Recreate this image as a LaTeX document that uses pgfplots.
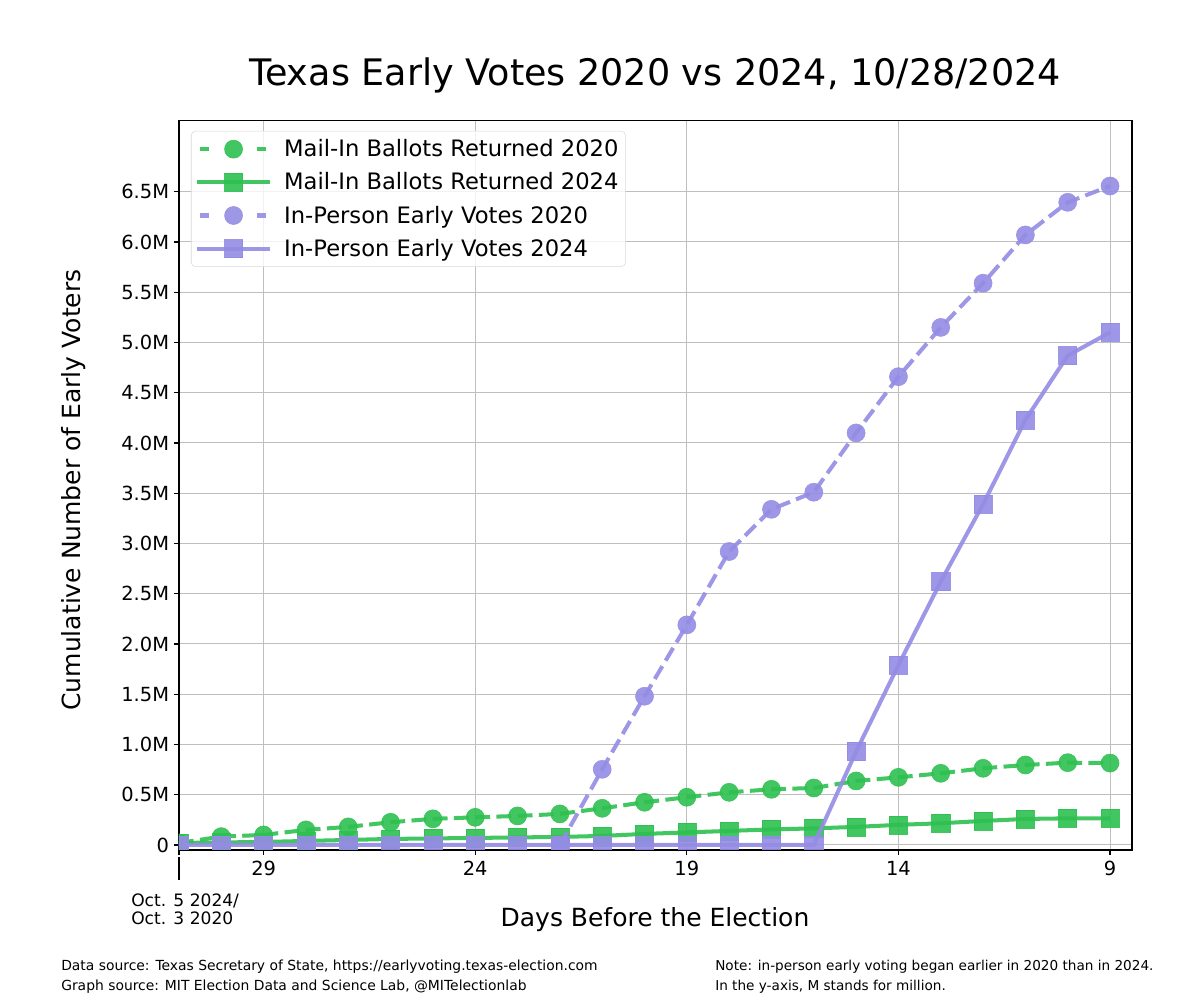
\documentclass[border=0pt]{standalone}
\usepackage{fontspec}
\setmainfont{DejaVu Sans}
\usepackage{pgfplots}
\pgfplotsset{compat=1.18}
\usetikzlibrary{calc}
\definecolor{mgreen}{RGB}{46,192,80}
\definecolor{mpurple}{RGB}{148,140,228}
\pgfplotsset{dashleg/.style={legend image code/.code={\draw[##1, dash pattern=on 6pt off 35pt on 6pt off 20pt, mark repeat=2, mark phase=2] plot coordinates {(2pt,0pt) (26pt,0pt) (50pt,0pt)};}}}
\pgfplotstableread{
day m20 m24 p24
31 0.02 0.02 0
30 0.083 0.025 0
29 0.10 0.03 0
28 0.15 0.04 0
27 0.18 0.05 0
26 0.226 0.06 0
25 0.26 0.065 0
24 0.275 0.07 0
23 0.289 0.075 0
22 0.309 0.08 0
21 0.365 0.09 0
20 0.425 0.11 0
19 0.475 0.125 0
18 0.524 0.14 0
17 0.554 0.155 0
16 0.567 0.165 0
15 0.637 0.18 0.93
14 0.673 0.20 1.79
13 0.713 0.216 2.62
12 0.763 0.239 3.39
11 0.796 0.259 4.23
10 0.819 0.265 4.87
9 0.815 0.265 5.10
}\maintab
\pgfplotstableread{
day p20
22 0
21 0.753
20 1.48
19 2.19
18 2.92
17 3.34
16 3.51
15 4.10
14 4.66
13 5.15
12 5.59
11 6.07
10 6.395
9 6.557
}\ipt
\begin{document}
\begin{tikzpicture}
\begin{axis}[
  scale only axis, width=686.2pt, height=525.1pt,
  x dir=reverse, xmin=8.48, xmax=31, ymin=-0.05, ymax=7.207,
  xtick={31,29,24,19,14,9}, xticklabels={\raisebox{3pt}[16.5pt][0pt]{\rule{1.8pt}{16.5pt}},29,24,19,14,9},
  ytick={0,0.5,1,1.5,2,2.5,3,3.5,4,4.5,5,5.5,6,6.5},
  yticklabels={0,0.5M,1.0M,1.5M,2.0M,2.5M,3.0M,3.5M,4.0M,4.5M,5.0M,5.5M,6.0M,6.5M},
  grid=major, major grid style={color=black!25, line width=0.72pt},
  tick align=outside, major tick length=3.6pt, tick style={black, line width=0.8pt},
  tick pos=left,
  axis line style={line width=0.8pt},
  tick label style={font=\fontsize{14}{16}\selectfont},
  xticklabel style={yshift=-1pt},
  clip marker paths=true,
  legend style={at={(0.0126,0.986)}, anchor=north west, draw=black!15, rounded corners=3pt,
    fill=white, fill opacity=0.8, text opacity=1, font=\fontsize{16.3}{18}\selectfont,
    row sep=6pt, inner xsep=3pt, inner ysep=4pt, cells={anchor=west},
    /tikz/every odd column/.append style={column sep=7pt}},
  legend image code/.code={\draw[#1, mark repeat=2, mark phase=2] plot coordinates {(0pt,0pt) (26pt,0pt) (52pt,0pt)};},
]
\addplot[color=mgreen, opacity=0.9, line width=2.9pt, dash pattern=on 10.7pt off 4.6pt,
  mark=*, mark size=6.5pt, mark options={solid, fill=mgreen, line width=0.4pt}, dashleg] table[x=day,y=m20]{\maintab};
\addlegendentry{Mail-In Ballots Returned 2020}
\addplot[color=mgreen, opacity=0.9, line width=2.9pt,
  mark=square*, mark size=6.5pt, mark options={solid, fill=mgreen, line width=0.4pt}] table[x=day,y=m24]{\maintab};
\addlegendentry{Mail-In Ballots Returned 2024}
\addplot[color=mpurple, opacity=0.9, line width=2.9pt, dash pattern=on 10.7pt off 4.6pt,
  mark=*, mark size=6.5pt, mark options={solid, fill=mpurple, line width=0.4pt}, dashleg] table[x=day,y=p20]{\ipt};
\addlegendentry{In-Person Early Votes 2020}
\addplot[color=mpurple, opacity=0.9, line width=2.9pt,
  mark=square*, mark size=6.5pt, mark options={solid, fill=mpurple, line width=0.4pt}] table[x=day,y=p24]{\maintab};
\addlegendentry{In-Person Early Votes 2024}
\end{axis}
\begin{scope}[shift={($(current axis.south west)+(-128.88pt,612pt)$)}, x=0.72pt, y=-0.72pt]
  \node[anchor=base, inner sep=0pt, font=\fontsize{26.3}{30}\selectfont] at (655,86) {Texas Early Votes 2020 vs 2024, 10/28/2024};
  \node[anchor=base, inner sep=0pt, font=\fontsize{18}{20}\selectfont] at (655,926) {Days Before the Election};
  \node[anchor=base, inner sep=0pt, rotate=90, font=\fontsize{18}{20}\selectfont] at (81,490) {Cumulative Number of Early Voters};
  \node[anchor=base west, inner sep=0pt, font=\fontsize{12.3}{14}\selectfont] at (131,906) {Oct. 5 2024/};
  \node[anchor=base west, inner sep=0pt, font=\fontsize{12.3}{14}\selectfont] at (131,924) {Oct. 3 2020};
  \node[anchor=base west, inner sep=0pt, font=\fontsize{10}{12}\selectfont] at (61,970) {Data source: Texas Secretary of State, https://earlyvoting.texas-election.com};
  \node[anchor=base west, inner sep=0pt, font=\fontsize{10}{12}\selectfont] at (61,990) {Graph source: MIT Election Data and Science Lab, @MITelectionlab};
  \node[anchor=base west, inner sep=0pt, font=\fontsize{9.8}{12}\selectfont] at (715,970) {Note: in-person early voting began earlier in 2020 than in 2024.};
  \node[anchor=base west, inner sep=0pt, font=\fontsize{9.8}{12}\selectfont] at (715,990) {In the y-axis, M stands for million.};
  \path (0,0) coordinate (TL) (1190,1000) coordinate (BR);
\end{scope}
\pgfresetboundingbox
\path (TL) rectangle (BR);
\end{tikzpicture}
\end{document}
